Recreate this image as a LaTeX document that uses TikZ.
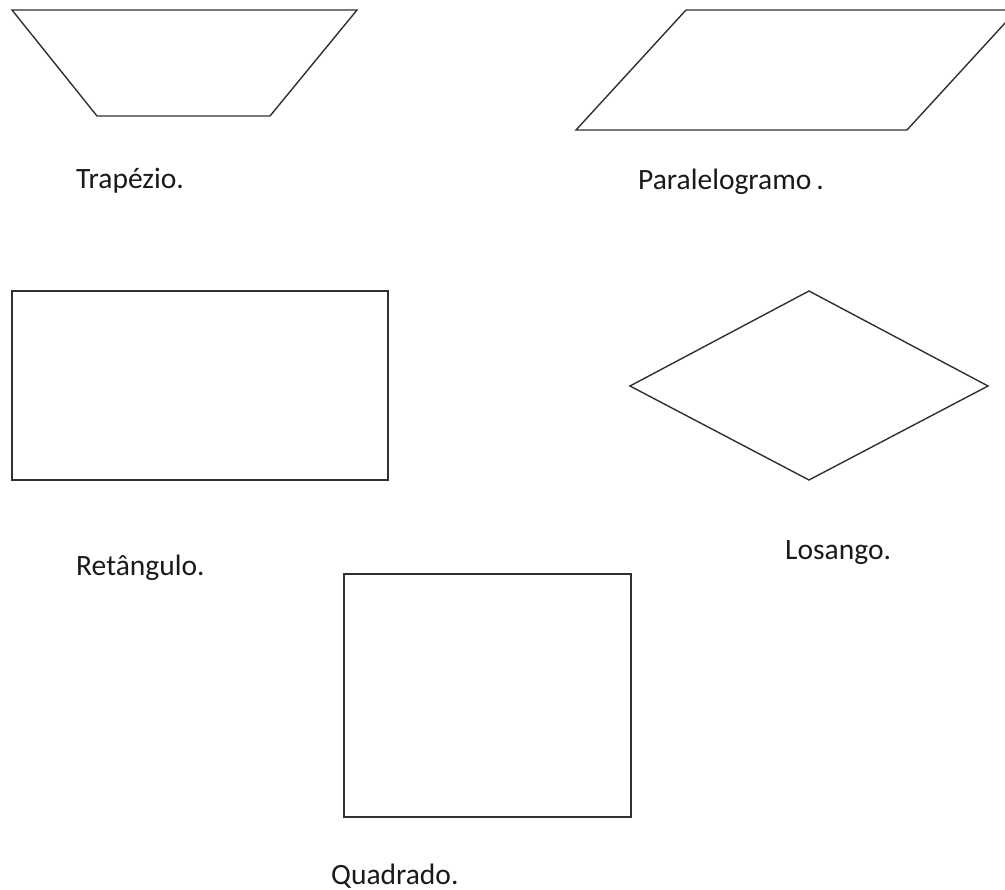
\documentclass[tikz,border=0pt]{standalone}
\usepackage{fontspec}
\setmainfont{Carlito}
\definecolor{edge}{HTML}{303030}
\definecolor{txt}{HTML}{1A1A1A}
\tikzset{
  shapeline/.style={draw=edge, line width=1.4pt, line join=miter},
  lbl/.style={anchor=base west, inner sep=0pt, text=txt, font=\fontsize{29.5}{35}\selectfont}
}
\begin{document}
\begin{tikzpicture}[x=1pt,y=-1pt]
\useasboundingbox (0,0) rectangle (1005,890);
\fill[white] (0,0) rectangle (1005,890);
\clip (0,0) rectangle (1005,890);
% Trapezio
\draw[shapeline] (12,10) -- (357,10) -- (270,116) -- (97,116) -- cycle;
\node[lbl] (ltrap) at (76,189) {Trapézio.};
% Paralelogramo
\draw[shapeline] (686,10) -- (1017,10) -- (907,130) -- (576,130) -- cycle;
\node[lbl] (lpar) at (638,190) {Paralelogramo\,.};
% Retangulo
\draw[shapeline] (12,291) rectangle (388,480);
\node[lbl] (lret) at (76,576) {Retângulo.};
% Losango
\draw[shapeline] (809,291) -- (988,386) -- (809,480) -- (630,386) -- cycle;
\node[lbl] (llos) at (785,560) {Losango.};
% Quadrado
\draw[shapeline] (344,574) rectangle (631,817);
\node[lbl] (lqua) at (331,884) {Quadrado.};
\end{tikzpicture}
\end{document}
